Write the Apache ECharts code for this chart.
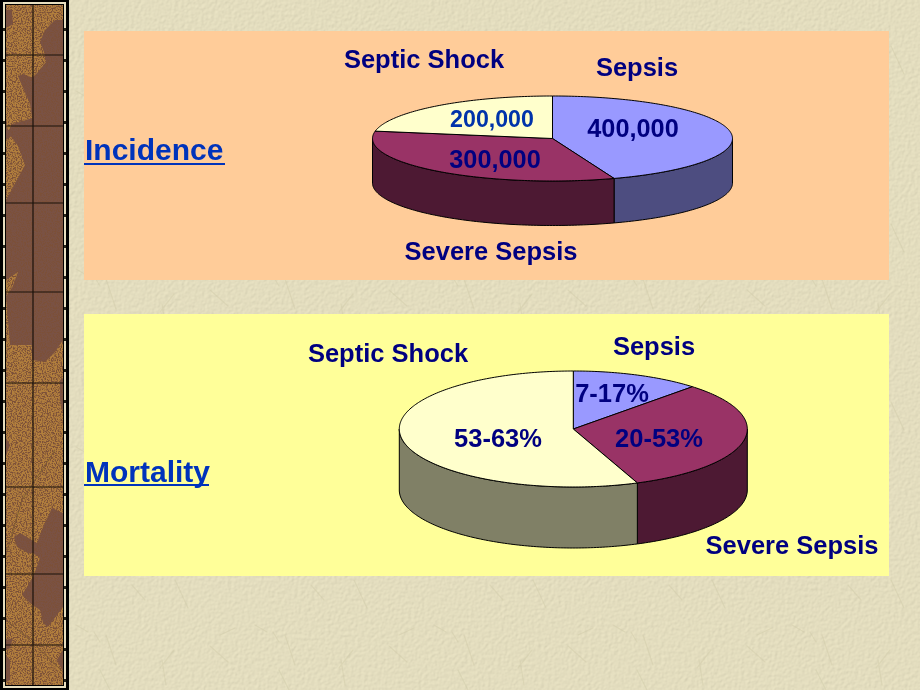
<!DOCTYPE html>
<html>
<head>
<meta charset="utf-8">
<script src="https://cdn.jsdelivr.net/npm/echarts@6/dist/echarts.min.js"></script>
<style>
html,body{margin:0;padding:0;width:920px;height:690px;overflow:hidden;background:#e3ddbf}
#bg,#main{position:absolute;left:0;top:0;width:920px;height:690px}
</style>
</head>
<body>
<svg id="bg" xmlns="http://www.w3.org/2000/svg" width="920" height="690" viewBox="0 0 920 690">
  <defs>
    <filter id="paper" x="0" y="0" width="100%" height="100%">
      <feTurbulence type="fractalNoise" baseFrequency="0.3" numOctaves="2" seed="4" result="n"/>
      <feDiffuseLighting in="n" surfaceScale="0.4" lighting-color="#e4debf" result="l"><feDistantLight azimuth="225" elevation="62"/></feDiffuseLighting>
      <feColorMatrix in="l" type="matrix" values="1.12 0 0 0 0  0 1.12 0 0 0  0 0 1.12 0 0  0 0 0 1 0"/>
    </filter>
    <filter id="grain" x="0" y="0" width="100%" height="100%">
      <feTurbulence type="fractalNoise" baseFrequency="0.8" numOctaves="2" seed="9"/>
      <feColorMatrix type="matrix" values="0 0 0 0 0.2  0 0 0 0 0.08  0 0 0 0 0.04  0 0 0 5 -2.2"/>
    </filter>
    <pattern id="scratch" width="179" height="178" patternUnits="userSpaceOnUse" patternTransform="translate(70 570)">
      <g fill="none" stroke="#d2cbaa" stroke-width="1.3" opacity=".5" stroke-linecap="round">
        <path d="M6 55 L18 62 M24 62 L30 72 M36 65 L46 95 M90 98 L104 80 M140 76 L158 92 M150 65 L165 58 M62 15 L75 30 M105 10 L118 38 M92 90 L96 115 M40 120 L30 100"/>
      </g>
    </pattern>
    <clipPath id="stripClip"><rect x="6" y="5" width="57" height="680"/></clipPath>
    <pattern id="beads" width="10" height="31" patternUnits="userSpaceOnUse"><rect width="10" height="31" fill="#e8dfc0"/><rect y="28" width="10" height="3" fill="#2a271c"/></pattern>
  </defs>
  <rect width="920" height="690" filter="url(#paper)"/>
  <rect width="920" height="690" fill="url(#scratch)"/>
  <rect x="0" y="0" width="69" height="690" fill="#000"/>
  <rect x="3" y="2" width="63" height="686" fill="url(#beads)"/>
  <rect x="5" y="4" width="59" height="682" fill="#000"/>
  <g clip-path="url(#stripClip)">
    <rect x="6" y="5" width="57" height="680" fill="#b27f3d"/>
    <g fill="#7a5244">
      <path d="M6 10L12 10L13 24L6 28Z"/>
      <path d="M63 20L55 20L45 30L40 42L44 52L46 62L38 72L32 78L24 74L18 76L24 90L30 104L32 118L20 122L12 124L8 132L18 146L25 165L6 200L6 280L18 272L12 288L6 296L10 345L32 345L32 360L45 362L55 352L63 340Z"/>
      <path d="M6 128L6 140L14 134Z"/>
      <path d="M60 380L63 378L63 412L60 400Z"/>
      <path d="M52 508L43 527L37 543L20 533L14 537L17 547L28 553L33 553L40 558L33 577L22 595L30 603L40 610L43 623L48 627L63 607L63 513Z"/>
      <path d="M6 438L10 445L6 456Z"/>
      <path d="M6 640L13 638L10 648L6 650Z"/>
      <path d="M6 655L10 660L10 680L6 682Z"/>
      <path d="M63 650L57 660L63 672Z"/>
    </g>
    <g stroke="#6c5528" stroke-width="1" fill="none" opacity=".7">
      <path d="M55 450L22 500L6 555M6 620L30 640L63 672"/>
    </g>
    <rect x="6" y="5" width="57" height="680" filter="url(#grain)"/>
    <g stroke="#1a120a" stroke-width="1.2" fill="none">
      <path d="M33 5V685M6 55H63M6 126H63M6 203H63M6 292H63M6 383H63M6 487H63M6 574H63M6 645H63"/>
    </g>
  </g>
</svg>
<div id="main"></div>
<script>
// ---- data ----
const categories = ['Sepsis', 'Severe Sepsis', 'Septic Shock'];
const incidenceValues = [400000, 300000, 200000];
const mortalityShares = [12, 32, 56];
const mortalityLabels = ['7-17%', '20-53%', '53-63%'];
const panelTitles = ['Incidence', 'Mortality'];

// ---- presentation ----
const topColors = ['#9999FF', '#993366', '#FFFFCC'];
const sideColors = ['#4D4D80', '#4D1933', '#808066'];
const NAVY = '#000080', BLUE = '#0033AA';
const bold = s => 'bold ' + s + 'px "Liberation Sans", Arial, sans-serif';

const incidenceLayout = {
  cx: 552.5, cy: 138.5, rx: 180, ry: 42.5, depth: 44.5,
  names: [[637, 69], [491, 253], [424, 61]],
  vals: [[633, 130, 25.3, NAVY], [495, 161, 25.3, NAVY], [492, 121, 23.2, BLUE]]
};
const mortalityLayout = {
  cx: 573.3, cy: 429, rx: 174, ry: 58, depth: 61,
  names: [[654, 348], [792, 547], [388, 355]],
  vals: [[612, 395, 25.5, NAVY], [659, 440, 25.5, NAVY], [498, 440, 25.5, NAVY]]
};

function pieSeries(values, labels, layout) {
  const total = values.reduce((a, b) => a + b, 0);
  let run = 0;
  const rows = values.map(v => { const r = [v, run]; run += v; return r; });
  const pt = (deg, dy) => {
    const t = deg * Math.PI / 180;
    return [layout.cx + layout.rx * Math.sin(t), layout.cy - layout.ry * Math.cos(t) + (dy || 0)];
  };
  const arc = (from, to, dy) => {
    const out = [];
    const n = Math.max(2, Math.ceil(Math.abs(to - from)));
    for (let i = 0; i <= n; i++) out.push(pt(from + (to - from) * i / n, dy));
    return out;
  };
  return {
    type: 'custom',
    coordinateSystem: 'none',
    silent: true,
    animation: false,
    data: rows,
    renderItem(params, api) {
      const i = params.dataIndex;
      const a0 = api.value(1) / total * 360;
      const a1 = (api.value(1) + api.value(0)) / total * 360;
      const children = [];
      const w0 = Math.max(a0, 90), w1 = Math.min(a1, 270);
      if (w1 > w0) {
        children.push({
          type: 'polygon', z2: 1,
          shape: { points: arc(w0, w1, 0).concat(arc(w1, w0, layout.depth)) },
          style: { fill: sideColors[i], stroke: '#000', lineWidth: 1, lineJoin: 'round' }
        });
      }
      children.push({
        type: 'polygon', z2: 2,
        shape: { points: [[layout.cx, layout.cy]].concat(arc(a0, a1, 0)) },
        style: { fill: topColors[i], stroke: '#000', lineWidth: 1, lineJoin: 'round' }
      });
      const v = layout.vals[i], n = layout.names[i];
      children.push({
        type: 'text', z2: 10,
        style: { x: v[0], y: v[1], text: labels[i], fill: v[3], font: bold(v[2]), align: 'center', verticalAlign: 'middle' }
      });
      children.push({
        type: 'text', z2: 10,
        style: { x: n[0], y: n[1], text: categories[i], fill: NAVY, font: bold(25.5), align: 'center', verticalAlign: 'middle' }
      });
      return { type: 'group', children };
    }
  };
}

const chart = echarts.init(document.getElementById('main'), null, { renderer: 'canvas' });
chart.setOption({
  backgroundColor: 'transparent',
  animation: false,
  graphic: [
    { type: 'rect', z: 0, shape: { x: 84, y: 31, width: 805, height: 249 }, style: { fill: '#FFCC99' } },
    { type: 'rect', z: 0, shape: { x: 84, y: 314, width: 805, height: 262 }, style: { fill: '#FFFF99' } },
    { type: 'text', z: 1, x: 85, y: 152, style: { text: panelTitles[0], fill: '#0033BB', font: bold(30), verticalAlign: 'middle' } },
    { type: 'text', z: 1, x: 85, y: 474, style: { text: panelTitles[1], fill: '#0033BB', font: bold(30), verticalAlign: 'middle' } },
    { type: 'rect', z: 1, shape: { x: 84, y: 163, width: 141, height: 2 }, style: { fill: '#0033BB' } },
    { type: 'rect', z: 1, shape: { x: 84, y: 484, width: 125, height: 2 }, style: { fill: '#0033BB' } }
  ],
  series: [
    pieSeries(incidenceValues, incidenceValues.map(v => v.toLocaleString('en-US')), incidenceLayout),
    pieSeries(mortalityShares, mortalityLabels, mortalityLayout)
  ]
});
</script>
</body>
</html>
